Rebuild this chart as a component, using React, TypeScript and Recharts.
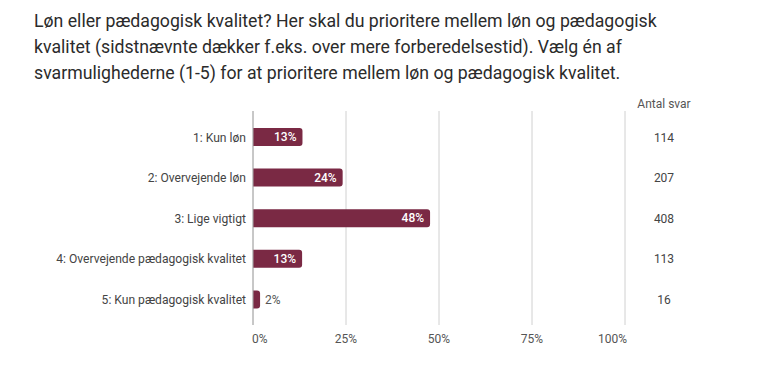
import React from 'react';
import { BarChart, Bar, XAxis, YAxis, CartesianGrid, LabelList } from 'recharts';

const titleLines = [
  'Løn eller pædagogisk kvalitet? Her skal du prioritere mellem løn og pædagogisk',
  'kvalitet (sidstnævnte dækker f.eks. over mere forberedelsestid). Vælg én af',
  'svarmulighederne (1-5) for at prioritere mellem løn og pædagogisk kvalitet.',
];

const categories = [
  '1: Kun løn',
  '2: Overvejende løn',
  '3: Lige vigtigt',
  '4: Overvejende pædagogisk kvalitet',
  '5: Kun pædagogisk kvalitet',
];
const shares = [13.3, 24.1, 47.6, 13.2, 1.9];
const counts = [114, 207, 408, 113, 16];
const percentTicks = [0, 25, 50, 75, 100];

const data = categories.map((name, i) => ({ name, share: shares[i], count: counts[i] }));

const FONT = 'Roboto, sans-serif';
const BAR_COLOR = '#7a2944';

const PercentTick = (props: any) => {
  const { x, y, payload, index } = props;
  const last = percentTicks.length - 1;
  const anchor = index === 0 ? 'start' : index === last ? 'end' : 'middle';
  const dx = index === 0 ? -1 : index === last ? 2 : 0;
  return (
    <text x={x + dx} y={y} dy="0.71em" textAnchor={anchor} fontSize={12} fill="#555" fontFamily={FONT}>
      {payload.value}%
    </text>
  );
};

const ShareLabel = (props: any) => {
  const { x, y, width, height, value } = props;
  const txt = `${Math.round(value)}%`;
  const cy = y + height / 2;
  if (value >= 5) {
    return (
      <text x={x + width - 6} y={cy} dy="0.35em" textAnchor="end" fontSize={12} fontWeight={500} fill="#fff" fontFamily={FONT}>
        {txt}
      </text>
    );
  }
  return (
    <text x={x + width + 5} y={cy} dy="0.35em" textAnchor="start" fontSize={12} fill="#555" fontFamily={FONT}>
      {txt}
    </text>
  );
};

export default function App() {
  return (
    <div style={{ width: 752, fontFamily: FONT }}>
      <div style={{ paddingLeft: 26, color: '#2b2b2b', fontSize: 17.7, lineHeight: '26px' }}>
        {titleLines.map((l) => (
          <div key={l} style={{ whiteSpace: 'nowrap' }}>{l}</div>
        ))}
      </div>
      <BarChart
        width={752}
        height={282}
        data={data}
        layout="vertical"
        margin={{ top: 25, right: 57, bottom: 13, left: 0 }}
        barSize={18}
      >
        <CartesianGrid horizontal={false} vertical stroke="#d0d0d0" />
        <XAxis
          type="number"
          domain={[0, 100]}
          ticks={percentTicks}
          axisLine={false}
          tickLine={false}
          tickSize={0}
          tickMargin={9}
          tick={<PercentTick />}
        />
        <YAxis
          yAxisId="left"
          type="category"
          dataKey="name"
          width={245}
          axisLine={{ stroke: '#a8a8a8' }}
          tickLine={false}
          tickSize={0}
          tickMargin={7}
          padding={{ top: 6, bottom: 5 }}
          tick={{ fontSize: 12.1, fill: '#444', fontFamily: FONT }}
        />
        <YAxis
          yAxisId="right"
          orientation="right"
          type="category"
          dataKey="name"
          width={78}
          axisLine={false}
          tickLine={false}
          tickSize={0}
          tickMargin={39}
          padding={{ top: 6, bottom: 5 }}
          tickFormatter={(v: string) => String(counts[categories.indexOf(v)])}
          tick={{ fontSize: 12, fill: '#444', fontFamily: FONT, textAnchor: 'middle' }}
          label={{ value: 'Antal svar', position: 'top', offset: 3, fontSize: 12, fill: '#555', fontFamily: FONT }}
        />
        <Bar yAxisId="left" dataKey="share" fill={BAR_COLOR} radius={[0, 3, 3, 0]} isAnimationActive={false}>
          <LabelList dataKey="share" content={<ShareLabel />} />
        </Bar>
      </BarChart>
    </div>
  );
}
